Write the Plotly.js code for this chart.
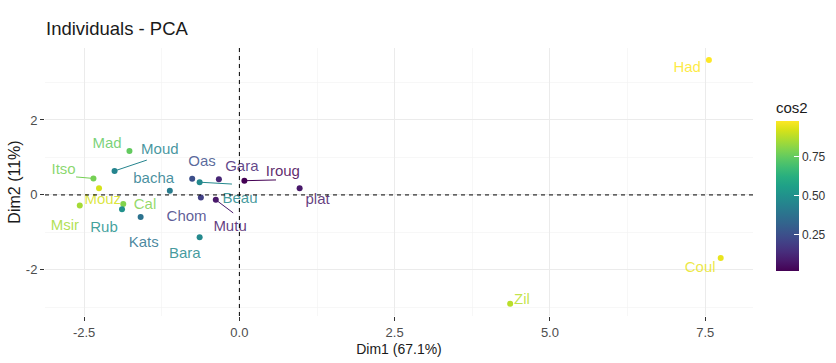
<!DOCTYPE html>
<html>
<head>
<meta charset="utf-8">
<script src="https://cdn.plot.ly/plotly-3.0.1.min.js"></script>
<style>html,body{margin:0;padding:0;background:#fff;}#chart{width:836px;height:363px;}</style>
</head>
<body>
<div id="chart"></div>
<script>
// ---- data ----
const names = ['Had','Coul','Zil','plat','Iroug','Gara','Oas','Beau','Chom','Mutu','bacha','Bara','Kats','Cal','Rub','Mouz','Itso','Msir','Moud','Mad'];
const dim1  = [7.56, 7.75, 4.36, 0.97, 0.08, -0.33, -0.76, -0.64, -0.62, -0.38, -1.12, -0.64, -1.59, -1.87, -1.89, -2.26, -2.35, -2.57, -2.01, -1.77];
const dim2  = [3.60, -1.68, -2.90, 0.18, 0.38, 0.42, 0.43, 0.34, -0.07, -0.13, 0.11, -1.13, -0.59, -0.24, -0.38, 0.18, 0.44, -0.28, 0.64, 1.17];
const cos2  = [0.98, 0.95, 0.88, 0.08, 0.02, 0.12, 0.25, 0.47, 0.20, 0.08, 0.42, 0.47, 0.38, 0.80, 0.50, 0.92, 0.78, 0.85, 0.45, 0.75];
// repelled label positions (data units)
const labelX = [7.21, 7.42, 4.55, 1.26, 0.70, 0.04, -0.60, 0.01, -0.85, -0.15, -1.38, -0.88, -1.54, -1.52, -2.18, -2.20, -2.83, -2.81, -1.28, -2.13];
const labelY = [3.39, -1.95, -2.80, -0.13, 0.61, 0.75, 0.88, -0.11, -0.59, -0.85, 0.43, -1.57, -1.28, -0.27, -0.88, -0.13, 0.67, -0.83, 1.20, 1.36];
// repel segment ends (null = no segment)
const segEndX = [null, null, null, null, 0.59, null, null, -0.12, null, -0.10, null, null, null, null, null, null, -2.63, null, -1.49, null];
const segEndY = [null, null, null, null, 0.40, null, null, 0.29, null, -0.48, null, null, null, null, null, null, 0.48, null, 0.93, null];
const xTickVals = [-2.5, 0, 2.5, 5, 7.5];
const xTickText = ['-2.5', '0.0', '2.5', '5.0', '7.5'];
const yTickVals = [-2, 0, 2];
const yTickText = ['-2', '0', '2'];
const cbTickVals = [0.25, 0.5, 0.75];
const cbTickText = ['0.25', '0.50', '0.75'];

// ---- colours ----
const viridisStops = [[0,'#440154'],[0.0627,'#48186a'],[0.1255,'#472d7b'],[0.1882,'#424086'],[0.2510,'#3b528b'],[0.3137,'#33638d'],[0.3765,'#2c728e'],[0.4392,'#26828e'],[0.5020,'#21918c'],[0.5647,'#1fa088'],[0.6275,'#28ae80'],[0.6902,'#3fbc73'],[0.7529,'#5ec962'],[0.8157,'#84d44b'],[0.8784,'#addc30'],[0.9412,'#d8e219'],[1,'#fde725']];
function hex2rgb(h){return [parseInt(h.slice(1,3),16),parseInt(h.slice(3,5),16),parseInt(h.slice(5,7),16)];}
function viridis(t, a){
  t = Math.max(0, Math.min(1, t));
  let rgb = hex2rgb(viridisStops[viridisStops.length-1][1]);
  for (let i = 1; i < viridisStops.length; i++) {
    if (t <= viridisStops[i][0]) {
      const [t0,c0] = viridisStops[i-1], [t1,c1] = viridisStops[i];
      const f = (t - t0) / (t1 - t0), p = hex2rgb(c0), q = hex2rgb(c1);
      rgb = p.map((v,k)=>Math.round(v + (q[k]-v)*f));
      break;
    }
  }
  return 'rgba(' + rgb.join(',') + ',' + (a === undefined ? 1 : a) + ')';
}
const cmin = Math.min(...cos2), cmax = Math.max(...cos2);
const cols = cos2.map(c => viridis((c - cmin) / (cmax - cmin)));
const textCols = cos2.map(c => viridis((c - cmin) / (cmax - cmin), 0.85));

const FONT = '"Liberation Sans", Arial, sans-serif';

const traces = [];
names.forEach((n, i) => {
  if (segEndX[i] !== null) {
    traces.push({type:'scatter', mode:'lines', x:[dim1[i], segEndX[i]], y:[dim2[i], segEndY[i]],
      line:{color:cols[i], width:1}, showlegend:false, hoverinfo:'skip'});
  }
});
traces.push({
  type:'scatter', mode:'markers', x:dim1, y:dim2, text:names, showlegend:false,
  marker:{size:6, color:cos2, colorscale:'Viridis', cmin:cmin, cmax:cmax, showscale:true,
    colorbar:{title:{text:'cos2', side:'top', font:{family:FONT, size:15, color:'#1a1a1a'}},
      thickness:23, len:172, lenmode:'pixels', x:776/836, xanchor:'left', xref:'container',
      y:(316-270.7)/268, yanchor:'bottom', yref:'paper', outlinewidth:0,
      tickmode:'array', tickvals:cbTickVals, ticktext:cbTickText, ticks:'inside', ticklen:5, tickcolor:'#ffffff',
      tickfont:{family:FONT, size:12, color:'#333'}, xpad:0, ypad:0}}
});
traces.push({
  type:'scatter', mode:'text', x:labelX, y:labelY, text:names, showlegend:false, hoverinfo:'skip',
  textposition:'middle center', textfont:{family:FONT, size:15, color:textCols}
});

const layout = {
  width:836, height:363,
  margin:{l:45, r:83, t:48, b:47},
  paper_bgcolor:'#ffffff', plot_bgcolor:'#ffffff',
  title:{text:'Individuals - PCA', x:46/836, xanchor:'left', xref:'container', y:1-29/363, yanchor:'middle', yref:'container',
    font:{family:FONT, size:18.5, color:'#1a1a1a'}},
  font:{family:FONT},
  xaxis:{range:[-3.13, 8.27], tickmode:'array', tickvals:xTickVals, ticktext:xTickText,
    showgrid:true, gridcolor:'#ebebeb', gridwidth:1, zeroline:false, showline:false,
    ticks:'outside', ticklen:4, tickcolor:'#333', tickwidth:1,
    minor:{tickmode:'linear', tick0:0, dtick:1.25, showgrid:true, gridcolor:'#f2f2f2', gridwidth:0.6, ticks:''},
    tickfont:{family:FONT, size:13, color:'#4d4d4d'},
    title:{text:'Dim1 (67.1%)', font:{family:FONT, size:14, color:'#1a1a1a'}, standoff:5}},
  yaxis:{range:[-3.23, 3.92], tickmode:'array', tickvals:yTickVals, ticktext:yTickText,
    showgrid:true, gridcolor:'#ebebeb', gridwidth:1, zeroline:false, showline:false,
    ticks:'outside', ticklen:4, tickcolor:'#333', tickwidth:1,
    minor:{tickmode:'linear', tick0:0, dtick:1, showgrid:true, gridcolor:'#f2f2f2', gridwidth:0.6, ticks:''},
    tickfont:{family:FONT, size:13, color:'#4d4d4d'},
    title:{text:'Dim2 (11%)', font:{family:FONT, size:16, color:'#1a1a1a'}, standoff:1}},
  shapes:[
    {type:'line', xref:'x', yref:'paper', x0:0, x1:0, y0:0, y1:1, line:{color:'#000', width:1, dash:'4px,4px'}},
    {type:'line', xref:'paper', yref:'y', x0:0, x1:1, y0:0, y1:0, line:{color:'#000', width:1, dash:'4px,4px'}}
  ]
};

Plotly.newPlot('chart', traces, layout, {displayModeBar:false, staticPlot:true});
</script>
</body>
</html>
